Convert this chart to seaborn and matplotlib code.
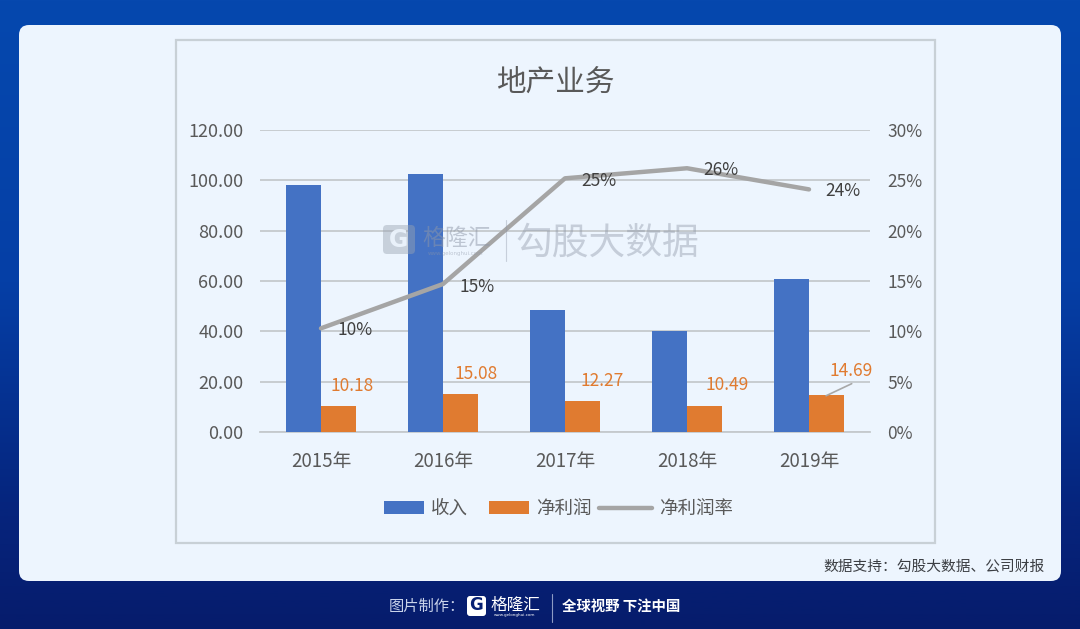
import numpy as np
import pandas as pd
import seaborn as sns
import matplotlib
matplotlib.use("Agg")
import matplotlib.pyplot as plt
from matplotlib.patches import FancyBboxPatch, Rectangle, Patch
from matplotlib.lines import Line2D
from matplotlib.legend_handler import HandlerLine2D
from matplotlib.colors import LinearSegmentedColormap

# data
years = ["2015年", "2016年", "2017年", "2018年", "2019年"]
revenue = [98.0, 102.5, 48.3, 40.0, 60.8]
profit = [10.18, 15.08, 12.27, 10.49, 14.69]
margin = [10.3, 14.7, 25.2, 26.2, 24.1]
margin_labels = ["10%", "15%", "25%", "26%", "24%"]
left_ticks = [0, 20, 40, 60, 80, 100, 120]
right_ticks = [0, 5, 10, 15, 20, 25, 30]

BLUE = "#4472c4"
ORANGE = "#e07b30"
GREY = "#a5a5a5"
TEXT = "#595959"
W, H = 1080, 629

sns.set_theme(style="white")
plt.rcParams["font.family"] = ["Noto Sans CJK SC", "DejaVu Sans"]

fig = plt.figure(figsize=(W / 100, H / 100), dpi=100)

# background layer, in pixel coordinates
bg = fig.add_axes([0, 0, 1, 1], zorder=0)
bg.set_xlim(0, W)
bg.set_ylim(H, 0)
bg.axis("off")
grad = np.linspace(0, 1, 256).reshape(-1, 1)
cmap = LinearSegmentedColormap.from_list(
    "bg", [(0, "#0648ae"), (0.45, "#053fa6"), (0.8, "#06257e"), (1, "#061c6c")]
)
bg.imshow(grad, aspect="auto", extent=[0, W, H, 0], cmap=cmap, zorder=0)
bg.add_patch(FancyBboxPatch((19, 25), 1042, 556, boxstyle="round,pad=0,rounding_size=10",
                            fc="#edf5fe", ec="none", zorder=1))
bg.add_patch(Rectangle((176, 40), 759, 503, fc="none", ec="#c8d0d6", lw=1.6, zorder=2))
bg.text(555, 82, "地产业务", fontsize=21.3, color=TEXT, ha="center", va="center", zorder=3)
bg.text(1045, 567, "数据支持：勾股大数据、公司财报", fontsize=10.6, color="#3c3f44",
        ha="right", va="center", zorder=3)

# footer
bg.text(427, 606, "图片制作：", fontsize=11, color="#c9d3ea", ha="center", va="center", zorder=3)
bg.add_patch(FancyBboxPatch((467, 596), 19, 20, boxstyle="round,pad=0,rounding_size=3",
                            fc="white", ec="none", zorder=3))
bg.text(476.5, 605.5, "G", fontsize=12, fontweight="bold", color="#061f72", ha="center",
        va="center", family="DejaVu Sans", zorder=4)
bg.text(515, 605, "格隆汇", fontsize=12, color="white", ha="center", va="center", zorder=3)
bg.text(515, 615, "www.gelonghui.com", fontsize=3, color="white", ha="center", va="center",
        family="DejaVu Sans", zorder=3)
bg.plot([552, 552], [594, 622], color="#8d9bc4", lw=0.8, zorder=3)
bg.text(621.5, 607, "全球视野 下注中国", fontsize=10.4, fontweight="bold", color="white",
        ha="center", va="center", zorder=3)

# main axes: 260..870 px wide, 130..432 px high
ax = fig.add_axes([260 / W, 1 - 432 / H, 610 / W, 302 / H], zorder=2)
ax.patch.set_alpha(0)

df = pd.DataFrame({"year": years, "收入": revenue, "净利润": profit})
long_df = df.melt(id_vars="year", var_name="series", value_name="value")
sns.barplot(data=long_df, x="year", y="value", hue="series", order=years,
            palette=[BLUE, ORANGE], width=0.574, gap=0, saturation=1,
            edgecolor="none", linewidth=0, legend=False, ax=ax, zorder=3)

ax.set_xlim(-0.5, 4.5)
ax.set_ylim(0, 120)
ax.set_yticks(left_ticks)
ax.set_yticklabels([f"{v:.2f}" for v in left_ticks])
ax.set_xlabel("")
ax.set_ylabel("")
ax.grid(axis="y", color="#c5c9cd", lw=1.3, zorder=0)
ax.set_axisbelow(True)
sns.despine(ax=ax, left=True, right=True, top=True, bottom=False)
ax.spines["bottom"].set_color("#c5c9cd")
ax.spines["bottom"].set_linewidth(1.3)
ax.tick_params(axis="y", length=0, pad=12, labelsize=13, labelcolor=TEXT)
ax.tick_params(axis="x", length=0, pad=14, labelsize=13.5, labelcolor=TEXT)

# profit labels above the orange bars
label_dx = [6.5, 8.6, 11, 13, 14.5]
label_dy = [8, 8, 8, 8, 11]
for i, val in enumerate(profit):
    ax.annotate(f"{val:.2f}", (i, val), xytext=(label_dx[i], label_dy[i]),
                textcoords="offset points", ha="left", va="bottom",
                fontsize=12.5, color=ORANGE, zorder=6)
# leader line for the last label
ax.annotate("", (4.14, 14.4), xytext=(4.35, 19.2),
            arrowprops=dict(arrowstyle="-", color="#a8a8a8", lw=1.2, shrinkA=0, shrinkB=0))

# margin line on the right axis
ax2 = ax.twinx()
ax2.patch.set_alpha(0)
sns.lineplot(x=range(len(years)), y=margin, color=GREY, lw=3.2, ax=ax2, zorder=5)
ax2.set_ylim(0, 30)
ax2.set_yticks(right_ticks)
ax2.set_yticklabels([f"{v}%" for v in right_ticks])
ax2.set_ylabel("")
ax2.grid(False)
sns.despine(ax=ax2, left=True, right=True, top=True, bottom=True)
ax2.tick_params(axis="y", length=0, pad=12.5, labelsize=12.5, labelcolor=TEXT)

label_off = [(12, -1), (12, -2), (12, -2), (12, -1), (12, -1)]
for i, (val, lab) in enumerate(zip(margin, margin_labels)):
    ax2.annotate(lab, (i, val), xytext=label_off[i], textcoords="offset points",
                 ha="left", va="center", fontsize=12.5, color="#404040", zorder=7)

handles = [
    Patch(fc=BLUE, ec="none", label="收入"),
    Patch(fc=ORANGE, ec="none", label="净利润"),
    Line2D([0], [0], color=GREY, lw=3.2, label="净利润率"),
]
# line key is longer than the patches, it grows to the left into the column gap
ax2.legend(handles=handles, loc="center", ncol=3, frameon=False, fontsize=13.3,
           labelcolor=TEXT, handlelength=2.17, handleheight=0.68, handletextpad=0.38,
           columnspacing=1.14, handler_map={handles[2]: HandlerLine2D(xpad=-0.7)},
           bbox_to_anchor=(558.5 / W, 1 - 509 / H), bbox_transform=fig.transFigure)

# watermark on top of everything
top = fig.add_axes([0, 0, 1, 1], zorder=5)
top.set_xlim(0, W)
top.set_ylim(H, 0)
top.axis("off")
top.patch.set_alpha(0)
top.add_patch(FancyBboxPatch((383, 225), 32, 29, boxstyle="round,pad=0,rounding_size=4",
                             fc="#9aa3b2", ec="none", alpha=0.45))
top.text(399, 240, "G", fontsize=17, fontweight="bold", color="#edf5fe", ha="center",
         va="center", family="DejaVu Sans", alpha=0.9)
top.text(457, 238, "格隆汇", fontsize=16.5, color="#8e97a8", alpha=0.5, ha="center", va="center")
top.text(456, 254, "www.gelonghui.com", fontsize=4, color="#8e97a8", alpha=0.5,
         ha="center", va="center", family="DejaVu Sans")
top.plot([506, 506], [220, 261], color="#8e97a8", alpha=0.4, lw=0.8)
top.text(607, 243, "勾股大数据", fontsize=26.5, color="#8e97a8", alpha=0.42, ha="center", va="center")

fig.savefig("out.png", dpi=100)
